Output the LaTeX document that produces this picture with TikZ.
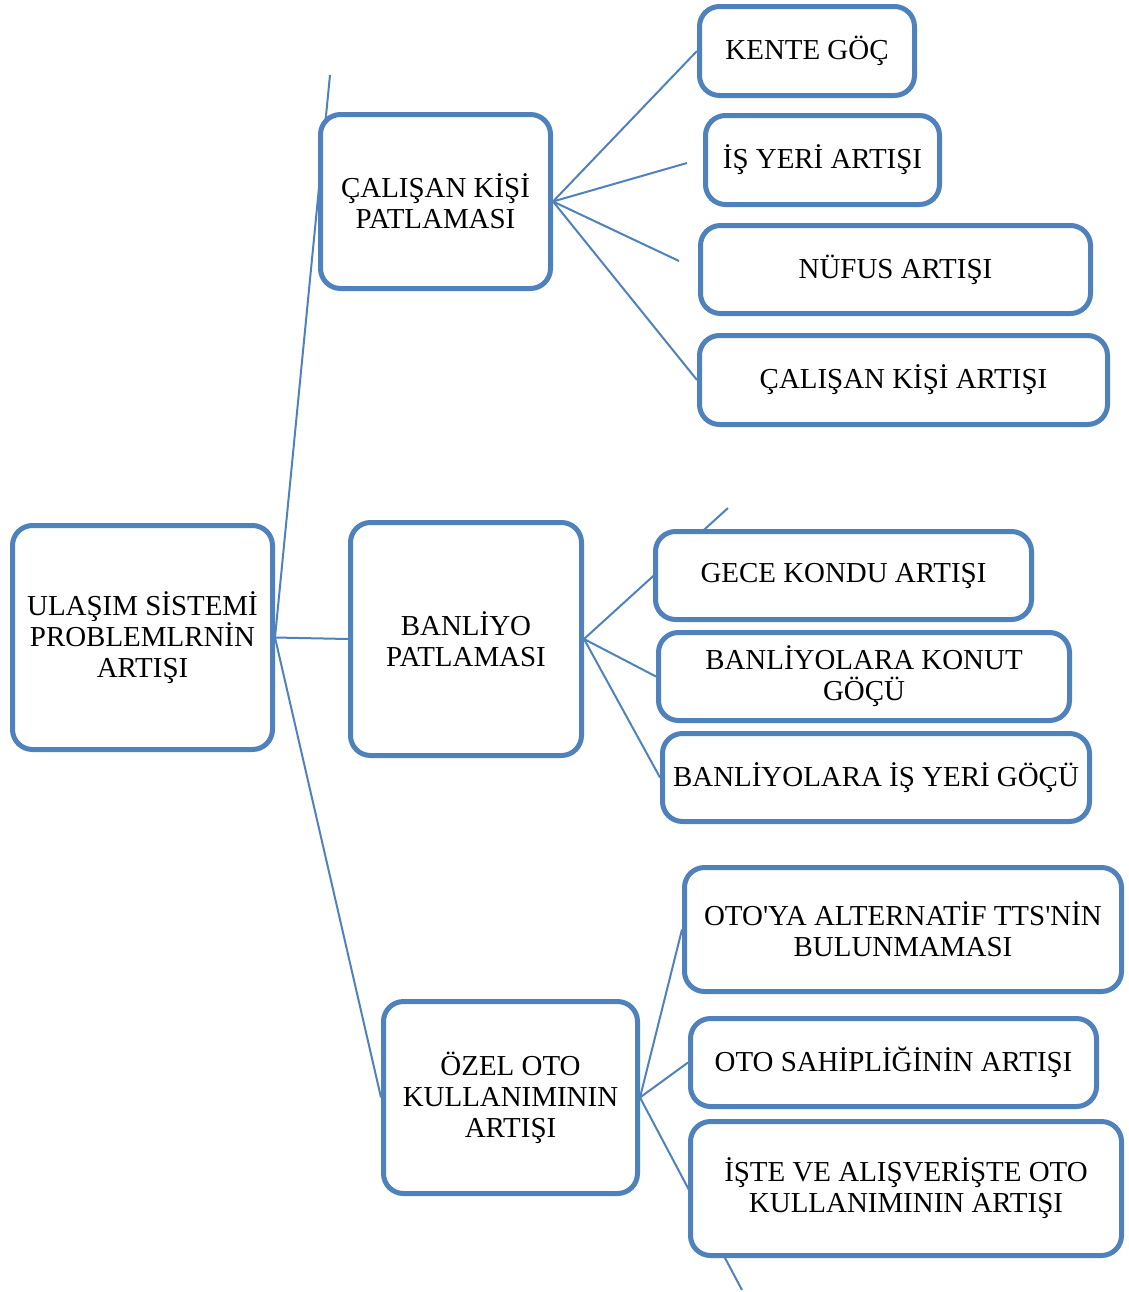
\documentclass[tikz,border=0pt]{standalone}
\usepackage{fontspec}
\setmainfont{Liberation Serif}
\usepackage{xcolor}
\usepackage{tikz}
\usetikzlibrary{positioning,calc,backgrounds}
\definecolor{officeblue}{HTML}{4F81BD}

\begin{document}
\begin{tikzpicture}[
    x=0.75pt, y=-0.75pt,
    box/.style={rectangle, draw=officeblue, fill=white, rounded corners=15pt, line width=3.75pt, align=center, inner sep=0pt, font=\fontsize{21.7}{23.3}\selectfont},
    link/.style={draw=officeblue, line width=1.5pt}
]
    \useasboundingbox (0,0) rectangle (1128,1292);

    % Root and second level
    \node[box, minimum width=260*0.75pt, minimum height=224*0.75pt] (root) at (142.5,637.5) {ULAŞIM SİSTEMİ\\PROBLEMLRNİN\\ARTIŞI};
    \node[box, minimum width=230*0.75pt, minimum height=174*0.75pt] (calp) at (435.5,201.5) {ÇALIŞAN KİŞİ\\PATLAMASI};
    \node[box, minimum width=231*0.75pt, minimum height=233*0.75pt] (banp) at (466,639) {BANLİYO\\PATLAMASI};
    \node[box, minimum width=254*0.75pt, minimum height=192*0.75pt] (ozel) at (510.5,1097.5) {ÖZEL OTO\\KULLANIMININ\\ARTIŞI};

    % Leaves of CALISAN KISI PATLAMASI
    \node[box, minimum width=215*0.75pt, minimum height=89*0.75pt] (kente) at (807,51) {KENTE GÖÇ};
    \node[box, minimum width=234*0.75pt, minimum height=89*0.75pt] (isyeri) at (822.5,160) {İŞ YERİ ARTIŞI};
    \node[box, minimum width=390*0.75pt, minimum height=88*0.75pt] (nufus) at (895.5,269.5) {NÜFUS ARTIŞI};
    \node[box, minimum width=408*0.75pt, minimum height=89*0.75pt] (calart) at (903.5,380) {ÇALIŞAN KİŞİ ARTIŞI};

    % Leaves of BANLIYO PATLAMASI
    \node[box, minimum width=376*0.75pt, minimum height=88*0.75pt] (gece) at (843.5,575.5) {GECE KONDU ARTIŞI};
    \node[box, minimum width=411*0.75pt, minimum height=88*0.75pt] (konut) at (864,676.5) {BANLİYOLARA KONUT\\GÖÇÜ};
    \node[box, minimum width=427*0.75pt, minimum height=88*0.75pt] (isgoc) at (876,777.5) {BANLİYOLARA İŞ YERİ GÖÇÜ};

    % Leaves of OZEL OTO
    \node[box, minimum width=437*0.75pt, minimum height=124*0.75pt] (tts) at (903,929.5) {OTO\textquotesingle YA ALTERNATİF TTS\textquotesingle NİN\\BULUNMAMASI};
    \node[box, minimum width=406*0.75pt, minimum height=88*0.75pt] (sahip) at (893.5,1062.5) {OTO SAHİPLİĞİNİN ARTIŞI};
    \node[box, minimum width=431*0.75pt, minimum height=134*0.75pt] (iste) at (906,1188.5) {İŞTE VE ALIŞVERİŞTE OTO\\KULLANIMININ ARTIŞI};

    % Free ends of the connectors
    \coordinate (topend) at (330,75);
    \coordinate (isyeriend) at (687,163);
    \coordinate (nufusend) at (679,261);
    \coordinate (geceend) at (728,508);
    \coordinate (isteend) at (742,1290);

    % Connectors
    \begin{scope}[on background layer]
        \draw[link] (root.east) -- (topend);
        \draw[link] (root.east) -- (banp.west);
        \draw[link] (root.east) -- (ozel.west);

        \draw[link] (calp.east) -- (kente.west);
        \draw[link] (calp.east) -- (isyeriend);
        \draw[link] (calp.east) -- (nufusend);
        \draw[link] (calp.east) -- (calart.west);

        \draw[link] (banp.east) -- (geceend);
        \draw[link] (banp.east) -- (konut.west);
        \draw[link] (banp.east) -- (isgoc.west);

        \draw[link] (ozel.east) -- (tts.west);
        \draw[link] (ozel.east) -- (sahip.west);
        \draw[link] (ozel.east) -- (isteend);
    \end{scope}
\end{tikzpicture}
\end{document}
